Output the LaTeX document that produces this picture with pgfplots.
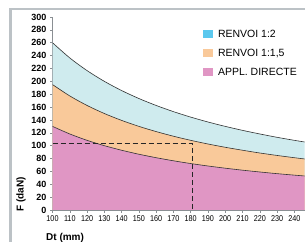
\documentclass[border=0pt]{standalone}
\usepackage{fontspec}
\setmainfont{Liberation Sans}
\newfontfamily\condfont[FakeStretch=0.86]{Liberation Sans}
\usepackage{pgfplots}
\pgfplotsset{compat=1.18}
\definecolor{cyanA}{HTML}{CFEBEE}
\definecolor{cyanL}{HTML}{5BC8EE}
\definecolor{orangeA}{HTML}{F9C99A}
\definecolor{pinkA}{HTML}{E096C4}
\definecolor{frameg}{HTML}{BCC2C6}
\definecolor{axisg}{HTML}{8A8F93}
\begin{document}
\begin{tikzpicture}[x=1pt,y=1pt]
\useasboundingbox (0,0) rectangle (305,241);
\fill[white] (0,0) rectangle (305,241);
\draw[frameg, line width=2.5pt] (10.5,-1) -- (10.5,232) -- (306,232);
\begin{axis}[
  at={(52.5pt,31pt)}, anchor=south west,
  scale only axis, width=252.2pt, height=193pt,
  xmin=100, xmax=246, ymin=0, ymax=300,
  axis x line=bottom, axis y line=left,
  axis line style={draw=axisg, -, line width=0.6pt},
  xtick={100,110,...,240}, ytick={0,20,...,300},
  tick align=outside, major tick length=2.5pt,
  tick style={axisg, line width=0.5pt},
  /pgf/number format/assume math mode=true,
  /pgf/number format/1000 sep={},
  xticklabel style={font=\condfont\fontsize{8.4}{9}\selectfont},
  yticklabel style={font=\bfseries\fontsize{9}{10}\selectfont},
  legend image code/.code={\fill[#1, draw=none] (0pt,-3.8pt) rectangle (10pt,3.8pt); \path (15.5pt,0pt);},
  legend cell align=left,
  legend style={at={(0.594,0.936)}, anchor=north west, draw=none, fill=none,
    inner sep=0pt, row sep=10pt,
    nodes={inner sep=0pt, text height=7.5pt, text depth=1.5pt,
      font=\fontsize{10.5}{11}\selectfont}},
]
\addplot[fill=cyanA, draw=none, forget plot] coordinates {
(100,260) (110,236.4) (120,216.7) (130,200) (140,185.7) (150,173.3) (160,162.5) (170,152.9)
(180,144.4) (190,136.8) (200,130) (210,123.8) (220,118.2) (230,113) (240,108.3) (250,104)} \closedcycle;
\addplot[fill=orangeA, draw=none, forget plot] coordinates {
(100,195) (110,177.3) (120,162.5) (130,150) (140,139.3) (150,130) (160,121.9) (170,114.7)
(180,108.3) (190,102.6) (200,97.5) (210,92.9) (220,88.6) (230,84.8) (240,81.3) (250,78)} \closedcycle;
\addplot[fill=pinkA, draw=none, forget plot] coordinates {
(100,130) (110,118.2) (120,108.3) (130,100) (140,92.9) (150,86.7) (160,81.3) (170,76.5)
(180,72.2) (190,68.4) (200,65) (210,61.9) (220,59.1) (230,56.5) (240,54.2) (250,52)} \closedcycle;
\addplot[black!80, line width=0.6pt, smooth, forget plot] coordinates {
(100,260) (110,236.4) (120,216.7) (130,200) (140,185.7) (150,173.3) (160,162.5) (170,152.9)
(180,144.4) (190,136.8) (200,130) (210,123.8) (220,118.2) (230,113) (240,108.3) (250,104)};
\addplot[black!80, line width=0.6pt, smooth, forget plot] coordinates {
(100,195) (110,177.3) (120,162.5) (130,150) (140,139.3) (150,130) (160,121.9) (170,114.7)
(180,108.3) (190,102.6) (200,97.5) (210,92.9) (220,88.6) (230,84.8) (240,81.3) (250,78)};
\addplot[black!80, line width=0.6pt, smooth, forget plot] coordinates {
(100,130) (110,118.2) (120,108.3) (130,100) (140,92.9) (150,86.7) (160,81.3) (170,76.5)
(180,72.2) (190,68.4) (200,65) (210,61.9) (220,59.1) (230,56.5) (240,54.2) (250,52)};
\addplot[black!85, line width=1.1pt, dash pattern=on 5pt off 3pt, forget plot] coordinates {
(100,103) (181,103) (181,0)};
\addlegendimage{fill=cyanL, draw=none}
\addlegendentry{RENVOI 1:2}
\addlegendimage{fill=orangeA, draw=none}
\addlegendentry{RENVOI 1:1,5}
\addlegendimage{fill=pinkA, draw=none}
\addlegendentry{APPL. DIRECTE}
\end{axis}
\node[rotate=90, anchor=west, inner sep=0pt, font=\bfseries\fontsize{10}{11}\selectfont] at (21,29) {F (daN)};
\node[anchor=north west, inner sep=0pt, font=\bfseries\fontsize{10}{11}\selectfont] at (46,7.5) {Dt (mm)};
\end{tikzpicture}
\end{document}
